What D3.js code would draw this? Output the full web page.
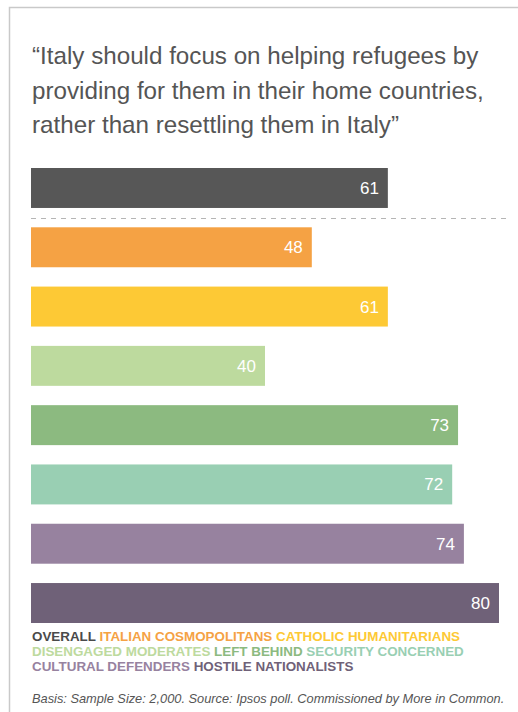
<!DOCTYPE html>
<html>
<head>
<meta charset="utf-8">
<script src="https://cdn.jsdelivr.net/npm/d3@7"></script>
<style>
  html, body { margin: 0; padding: 0; background: #fff; }
  svg { display: block; font-family: "Liberation Sans", Arial, Helvetica, sans-serif; }
</style>
</head>
<body>
<svg id="chart" width="518" height="712"></svg>
<script>
const titleLines = [
  "\u201CItaly should focus on helping refugees by",
  "providing for them in their home countries,",
  "rather than resettling them in Italy\u201D"
];
const categories = [
  "OVERALL",
  "ITALIAN COSMOPOLITANS",
  "CATHOLIC HUMANITARIANS",
  "DISENGAGED MODERATES",
  "LEFT BEHIND",
  "SECURITY CONCERNED",
  "CULTURAL DEFENDERS",
  "HOSTILE NATIONALISTS"
];
const values = [61, 48, 61, 40, 73, 72, 74, 80];
const barColors = ["#575757", "#F5A244", "#FDC935", "#BDDA9E", "#8CBA80", "#99CFB3", "#97829F", "#6F6178"];
const legendColors = ["#4a4a4a", "#F5A244", "#FDC935", "#BDDA9E", "#8CBA80", "#99CFB3", "#97829F", "#6F6178"];
const legendRows = [[0, 1, 2], [3, 4, 5], [6, 7]];
const footnote = "Basis: Sample Size: 2,000. Source: Ipsos poll. Commissioned by More in Common.";

const svg = d3.select("#chart");

// frame
svg.append("path")
  .attr("d", "M9.5,712 L9.5,7.5 L518,7.5")
  .attr("fill", "none")
  .attr("stroke", "#c9c9c9")
  .attr("stroke-width", 1.5);

// title
const title = svg.append("text")
  .attr("x", 32)
  .attr("fill", "#555")
  .style("font-size", "24.2px");
titleLines.forEach((t, i) => {
  title.append("tspan").attr("x", 32).attr("y", 64 + i * 34.5).text(t);
});

const x = d3.scaleLinear().domain([0, 80]).range([0, 468]);
const y = d3.scaleBand().domain(categories).range([168, 623]).paddingInner(0.326).paddingOuter(0);
const x0 = 31;

const g = svg.append("g");
g.selectAll("rect.bar")
  .data(categories)
  .join("rect")
  .attr("class", "bar")
  .attr("x", x0)
  .attr("y", d => y(d))
  .attr("width", (d, i) => x(values[i]))
  .attr("height", y.bandwidth())
  .attr("fill", (d, i) => barColors[i]);

g.selectAll("text.val")
  .data(categories)
  .join("text")
  .attr("class", "val")
  .attr("x", (d, i) => x0 + x(values[i]) - 9)
  .attr("y", d => y(d) + y.bandwidth() / 2 + 6)
  .attr("text-anchor", "end")
  .attr("fill", "#fff")
  .style("font-size", "17px")
  .text((d, i) => values[i]);

// dashed separator under overall
const sepY = (y(categories[0]) + y.bandwidth() + y(categories[1])) / 2;
svg.append("line")
  .attr("x1", 31).attr("x2", 507)
  .attr("y1", Math.round(sepY) + 0.5).attr("y2", Math.round(sepY) + 0.5)
  .attr("stroke", "#b5b5b5")
  .attr("stroke-width", 1.2)
  .attr("stroke-dasharray", "5,5");

// legend
legendRows.forEach((row, r) => {
  const t = svg.append("text")
    .attr("x", 32)
    .attr("y", 641 + r * 15)
    .style("font-size", "13.4px")
    .style("font-weight", "bold");
  row.forEach((idx, k) => {
    t.append("tspan")
      .attr("fill", legendColors[idx])
      .text((k > 0 ? " " : "") + categories[idx]);
  });
});

// footnote
svg.append("text")
  .attr("x", 32)
  .attr("y", 703)
  .attr("fill", "#555")
  .style("font-size", "12.8px")
  .style("font-style", "italic")
  .text(footnote);
</script>
</body>
</html>
